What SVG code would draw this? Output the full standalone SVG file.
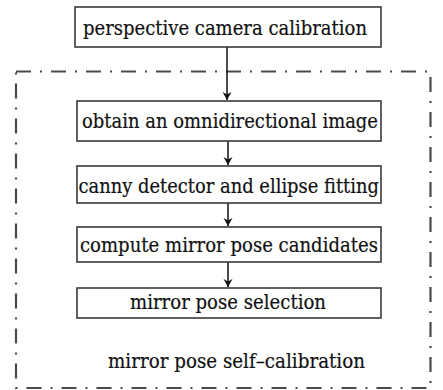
<svg xmlns="http://www.w3.org/2000/svg" width="443" height="390" viewBox="0 0 443 390">
  <style>
    .box { fill: #ffffff; stroke: #3a3a3a; stroke-width: 1.6; }
    .lbl { font-family: 'DejaVu Serif', 'Liberation Serif', serif; font-size: 21px; fill: #111; stroke: #111; stroke-width: 0.2; }
    .frame { fill: none; stroke: #4a4a4a; stroke-width: 2.2; stroke-dasharray: 15 9 2 9; }
    .conn { stroke: #111; stroke-width: 1.5; fill: none; marker-end: url(#arr); }
  </style>
  <defs>
    <marker id="arr" viewBox="0 0 8 12" refX="8" refY="6" markerWidth="8" markerHeight="12" markerUnits="userSpaceOnUse" orient="auto">
      <path d="M0,1.5 L8,6 L0,10.5 L2.5,6 Z" fill="#111"/>
    </marker>
  </defs>
  <rect width="443" height="390" fill="#ffffff"/>

  <g id="frame">
    <rect class="frame" x="16" y="71.5" width="414.5" height="316.5"/>
  </g>

  <g id="connectors">
    <line class="conn" x1="227" y1="47" x2="227" y2="100"/>
    <line class="conn" x1="228" y1="141" x2="228" y2="165"/>
    <line class="conn" x1="228" y1="203" x2="228" y2="226"/>
    <line class="conn" x1="228" y1="262" x2="228" y2="287"/>
  </g>

  <g id="n1">
    <rect class="box" x="75" y="7" width="306" height="40"/>
    <text class="lbl" x="83" y="35" textLength="284" lengthAdjust="spacingAndGlyphs">perspective camera calibration</text>
  </g>
  <g id="n2">
    <rect class="box" x="77" y="101" width="304" height="40"/>
    <text class="lbl" x="82" y="128" textLength="296" lengthAdjust="spacingAndGlyphs">obtain an omnidirectional image</text>
  </g>
  <g id="n3">
    <rect class="box" x="77" y="166" width="304" height="37"/>
    <text class="lbl" x="78.5" y="193" textLength="300.5" lengthAdjust="spacingAndGlyphs">canny detector and ellipse fitting</text>
  </g>
  <g id="n4">
    <rect class="box" x="77" y="227" width="304" height="35"/>
    <text class="lbl" x="80" y="252" textLength="298" lengthAdjust="spacingAndGlyphs">compute mirror pose candidates</text>
  </g>
  <g id="n5">
    <rect class="box" x="77" y="288" width="304" height="30"/>
    <text class="lbl" x="130" y="309" textLength="196" lengthAdjust="spacingAndGlyphs">mirror pose selection</text>
  </g>
  <g id="group-label">
    <text class="lbl" x="108" y="368" textLength="257" lengthAdjust="spacingAndGlyphs">mirror pose self–calibration</text>
  </g>
</svg>
